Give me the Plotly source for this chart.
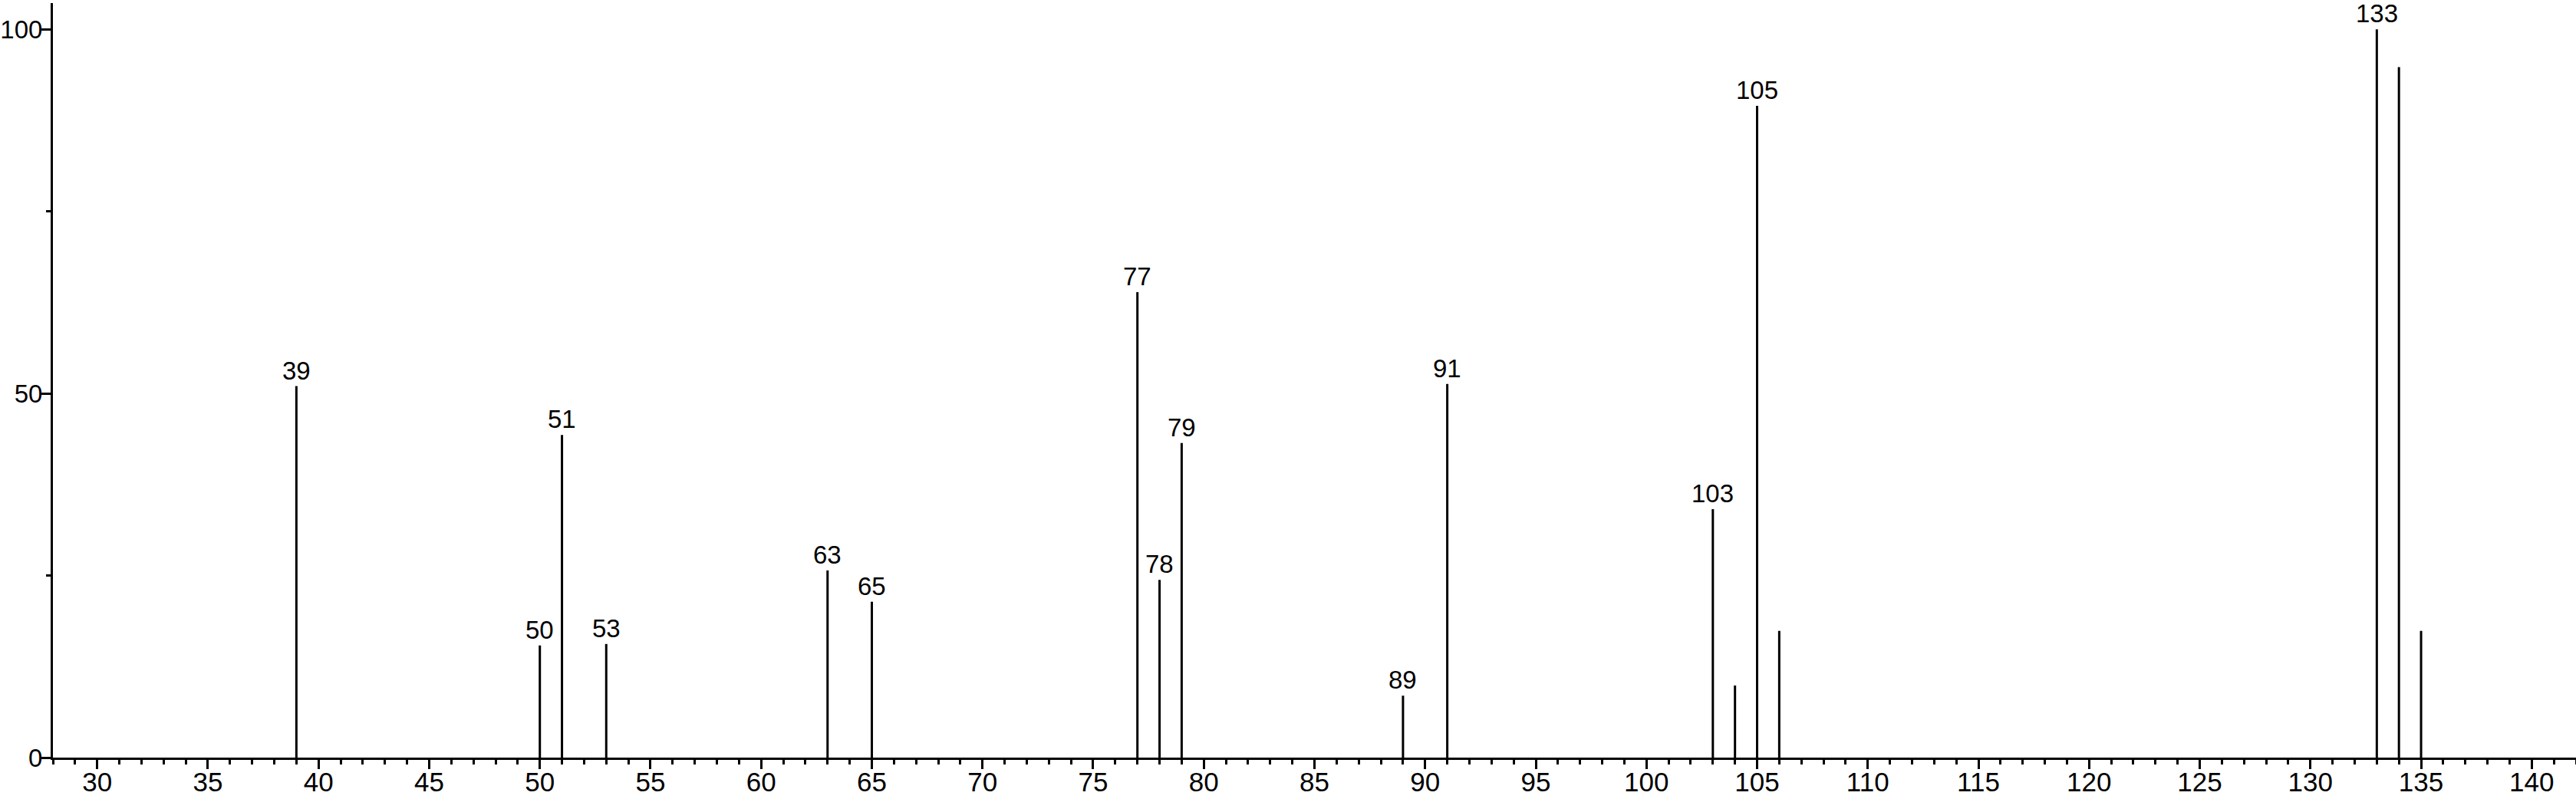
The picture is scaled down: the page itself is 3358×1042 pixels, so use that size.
import plotly.graph_objects as go

# m/z values and relative intensities
mz = [39, 50, 51, 53, 63, 65, 77, 78, 79, 89, 91, 103, 104, 105, 106, 133, 134, 135]
intensity = [51.0, 15.4, 44.3, 15.6, 25.7, 21.4, 63.9, 24.4, 43.2, 8.5, 51.3,
             34.1, 9.9, 89.5, 17.4, 100.0, 94.8, 17.4]
labelled = [39, 50, 51, 53, 63, 65, 77, 78, 79, 89, 91, 103, 105, 133]

x_ticks = list(range(30, 141, 5))
y_ticks = [0, 50, 100]

xs, ys = [], []
for m, v in zip(mz, intensity):
    xs += [m, m, None]
    ys += [0, v, None]

fig = go.Figure()
fig.add_trace(go.Scatter(x=xs, y=ys, mode="lines",
                         line=dict(color="black", width=3),
                         hoverinfo="skip", showlegend=False))

for m, v in zip(mz, intensity):
    if m in labelled:
        fig.add_annotation(x=m, y=v, text=str(m), showarrow=False,
                           xanchor="center", yanchor="bottom", yshift=0,
                           font=dict(family="Liberation Sans, Arial", size=33, color="black"))

fig.update_layout(
    width=3358, height=1042,
    margin=dict(l=69, r=0, t=4, b=54, pad=0),
    paper_bgcolor="white", plot_bgcolor="white",
    font=dict(family="Liberation Sans, Arial", size=35, color="black"),
    showlegend=False,
)
fig.update_xaxes(range=[28, 142], tickvals=x_ticks, ticktext=[str(t) for t in x_ticks],
                 ticks="outside", ticklen=12, tickwidth=3, tickcolor="black",
                 showline=True, linecolor="black", linewidth=3,
                 showgrid=False, zeroline=False, automargin=False,
                 ticklabelstandoff=-13,
                 minor=dict(dtick=1, tick0=0, ticks="outside", ticklen=6, tickwidth=3,
                            tickcolor="black", showgrid=False),
                 tickfont=dict(size=35))
fig.update_yaxes(range=[0, 103.6], tickvals=y_ticks, ticktext=[str(t) for t in y_ticks],
                 ticks="outside", ticklen=12, tickwidth=3, tickcolor="black",
                 showline=True, linecolor="black", linewidth=3,
                 showgrid=False, zeroline=False, automargin=False,
                 ticklabelstandoff=-8,
                 minor=dict(dtick=25, tick0=0, ticks="outside", ticklen=6, tickwidth=3,
                            tickcolor="black", showgrid=False),
                 tickfont=dict(size=33))

fig.write_html("out.html", config={"displayModeBar": False},
               post_script="document.body.style.margin='0';document.body.style.overflow='hidden';")
